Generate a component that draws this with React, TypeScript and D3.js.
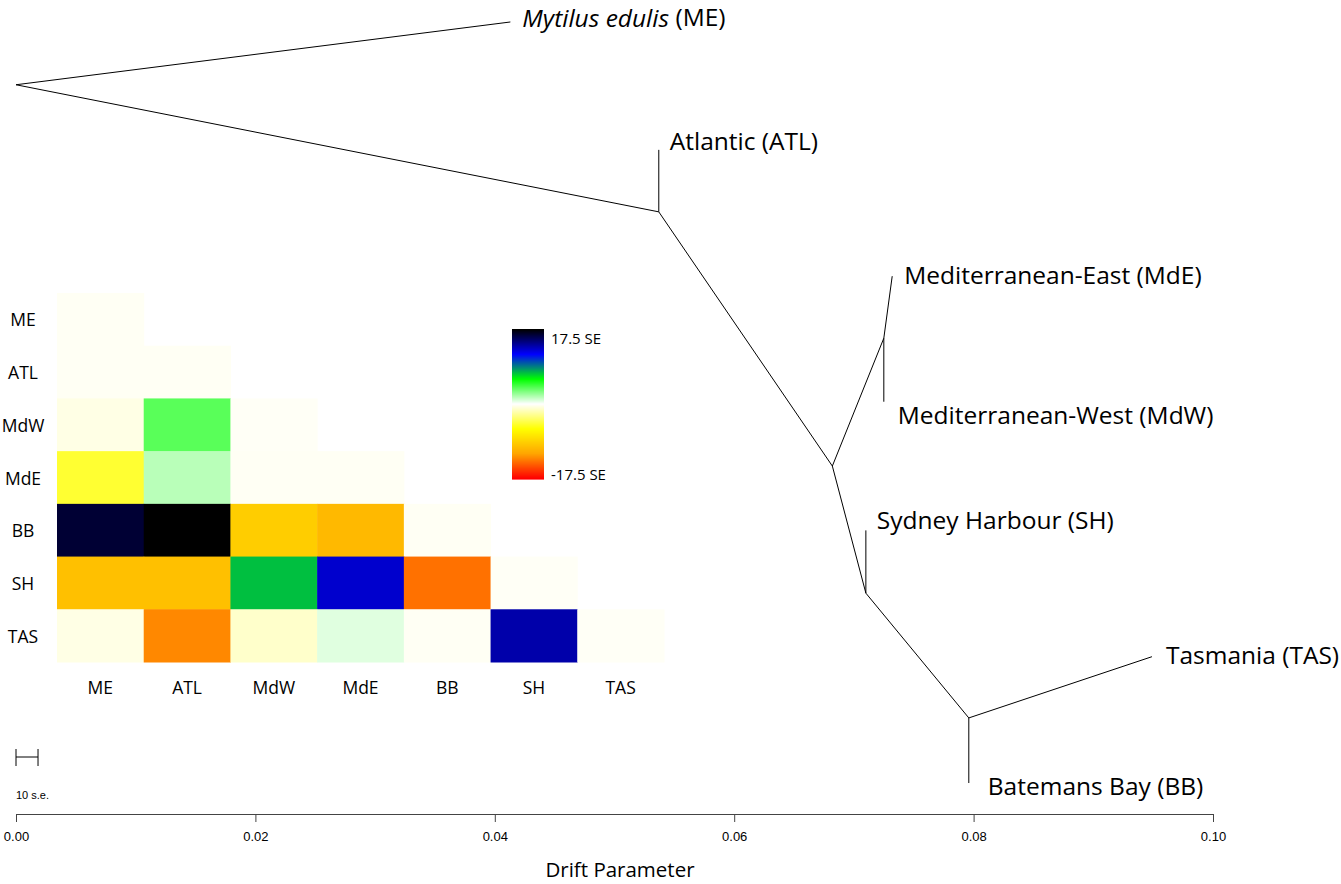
import React from "react";
import * as d3 from "d3";

// ---------- data ----------
const popCodes = ["ME", "ATL", "MdW", "MdE", "BB", "SH", "TAS"];

// lower-triangle residuals (row i has columns 0..i), in SE units
const residualRows: number[][] = [
  [-0.25],
  [-0.25, -0.25],
  [-0.6, 3.8, -0.2],
  [-4.7, 1.6, -0.25, -0.25],
  [16.3, 17.5, -9.1, -10.4, -0.25],
  [-9.9, -9.9, 7.3, 12.8, -13.5, -0.2],
  [-0.6, -12.7, -1.2, 0.7, -0.25, 13.6, -0.2],
];

const colorStops = ["#FF0000", "#FFA500", "#FFFF00", "#FFFFFF", "#00FF00", "#0000FF", "#000000"];
const colorLimit = 17.5;

// tree: drift (x) and vertical position (0..1)
const treeNodeIds = ["root", "ME", "nATL", "ATL", "n1", "nMed", "MdE", "MdW", "n2", "SH", "n3", "TAS", "BB"];
const treeParents = [null, "root", "root", "nATL", "nATL", "n1", "nMed", "nMed", "n1", "n2", "n2", "n3", "n3"];
const treeDrift = [0, 0.0413, 0.0537, 0.0537, 0.0682, 0.0725, 0.0732, 0.0725, 0.071, 0.071, 0.0796, 0.0949, 0.0796];
const treeY = [0.91, 0.991, 0.746, 0.826, 0.418, 0.583, 0.663, 0.501, 0.254, 0.335, 0.093, 0.172, 0.009];

const tipIds = ["ME", "ATL", "MdE", "MdW", "SH", "TAS", "BB"];
const tipNames = ["Mytilus edulis", "Atlantic", "Mediterranean-East", "Mediterranean-West", "Sydney Harbour", "Tasmania", "Batemans Bay"];
const tipItalic = [true, false, false, false, false, false, false];

const axisTicks = [0, 0.02, 0.04, 0.06, 0.08, 0.1];
const scaleBarDrift = 0.00184;
const scaleBarLabel = "10 s.e.";
const legendLabels = ["17.5 SE", "-17.5 SE"];
const xAxisTitle = "Drift Parameter";

// ---------- layout ----------
const W = 1341;
const H = 884;
const labelOffsets: Record<string, [number, number]> = {
  ME: [12, -5],
  ATL: [11, -9],
  MdE: [12, -2],
  MdW: [14, 13],
  SH: [11, -11],
  TAS: [14, -2],
  BB: [19, 2],
};
const labelFont = "'Open Sans', Lato, sans-serif";
const helv = "'Liberation Sans', Arial, sans-serif";

export default function App() {
  const x = d3.scaleLinear().domain([0, 0.1]).range([16, 1213]);
  const y = d3.scaleLinear().domain([0, 1]).range([790, 15]);

  const color = d3
    .scaleLinear<string>()
    .domain(d3.range(colorStops.length).map((i) => -colorLimit + (2 * colorLimit * i) / (colorStops.length - 1)))
    .range(colorStops)
    .interpolate(d3.interpolateRgb)
    .clamp(true);

  const idx = (id: string) => treeNodeIds.indexOf(id);

  const hx = d3.scaleBand<string>().domain(popCodes).range([57, 664]).paddingInner(0);
  const hy = d3.scaleBand<string>().domain(popCodes).range([293, 662]).paddingInner(0);

  const legTop = 329;
  const legBottom = 478;
  const legY = d3.scaleLinear().domain([colorLimit, -colorLimit]).range([legTop, legBottom]);
  const legendSteps = d3.range(0, 150).map((i) => colorLimit - (2 * colorLimit * i) / 149);

  const axisRef = React.useRef<SVGGElement>(null);
  React.useEffect(() => {
    if (!axisRef.current) return;
    const g = d3.select(axisRef.current);
    g.selectAll("*").remove();
    g.call(
      d3
        .axisBottom(x)
        .tickValues(axisTicks)
        .tickFormat(d3.format(".2f"))
        .tickSize(8)
        .tickSizeOuter(0)
    );
    g.select(".domain").attr("stroke", "#444").attr("stroke-width", 1.2);
    g.selectAll(".tick line").attr("stroke", "#444");
    g.selectAll(".tick text")
      .attr("font-family", helv)
      .attr("font-size", 13)
      .attr("fill", "#000")
      .attr("dy", "1.2em");
  }, []);

  return (
    <svg width={W} height={H} style={{ position: "absolute", left: 0, top: 0, background: "#fff" }}>
      <rect x={0} y={0} width={W} height={H} fill="#fff" />

      {/* heatmap */}
      <g>
        {residualRows.map((row, ri) =>
          row.map((v, ci) => (
            <rect
              key={`${ri}-${ci}`}
              x={hx(popCodes[ci])}
              y={hy(popCodes[ri])}
              width={hx.bandwidth() + 0.5}
              height={hy.bandwidth() + 0.5}
              fill={color(v)}
            />
          ))
        )}
        {popCodes.map((p) => (
          <text
            key={"r" + p}
            x={23}
            y={(hy(p) as number) + hy.bandwidth() / 2}
            textAnchor="middle"
            dominantBaseline="central"
            fontFamily={labelFont}
            fontSize={17.5}
            fill="#000"
          >
            {p}
          </text>
        ))}
        {popCodes.map((p) => (
          <text
            key={"c" + p}
            x={(hx(p) as number) + hx.bandwidth() / 2}
            y={687}
            textAnchor="middle"
            dominantBaseline="central"
            fontFamily={labelFont}
            fontSize={17.5}
            fill="#000"
          >
            {p}
          </text>
        ))}
      </g>

      {/* color legend */}
      <g>
        {legendSteps.map((v, i) => (
          <rect key={i} x={512} y={legY(v)} width={32} height={(legBottom - legTop) / 149 + 0.6} fill={color(v)} />
        ))}
        <text x={551} y={legY(colorLimit) + 9} dominantBaseline="central" fontFamily={labelFont} fontSize={15} fill="#000">
          {legendLabels[0]}
        </text>
        <text x={551} y={legY(-colorLimit) - 4} dominantBaseline="central" fontFamily={labelFont} fontSize={15} fill="#000">
          {legendLabels[1]}
        </text>
      </g>

      {/* tree edges */}
      <g stroke="#000" strokeWidth={1} fill="none">
        {treeNodeIds.map((id, i) => {
          const p = treeParents[i];
          if (!p) return null;
          const j = idx(p);
          return (
            <line key={id} x1={x(treeDrift[j])} y1={y(treeY[j])} x2={x(treeDrift[i])} y2={y(treeY[i])} />
          );
        })}
      </g>

      {/* tip labels */}
      <g>
        {tipIds.map((id, k) => {
          const i = idx(id);
          const off = labelOffsets[id];
          return (
            <text
              key={id}
              x={x(treeDrift[i]) + off[0]}
              y={y(treeY[i]) + off[1]}
              dominantBaseline="central"
              fontFamily={labelFont}
              fontSize={24.5}
              fill="#000"
            >
              {tipItalic[k] ? (
                <>
                  <tspan fontStyle="italic">{tipNames[k]}</tspan>
                  {` (${id})`}
                </>
              ) : (
                `${tipNames[k]} (${id})`
              )}
            </text>
          );
        })}
      </g>

      {/* scale bar */}
      <g stroke="#000" strokeWidth={1}>
        <line x1={x(0)} x2={x(scaleBarDrift)} y1={757} y2={757} />
        <line x1={x(0)} x2={x(0)} y1={749} y2={766} />
        <line x1={x(scaleBarDrift)} x2={x(scaleBarDrift)} y1={749} y2={766} />
      </g>
      <text x={x(0)} y={795} dominantBaseline="central" fontFamily={helv} fontSize={11} fill="#000">
        {scaleBarLabel}
      </text>

      {/* axis */}
      <g ref={axisRef} transform="translate(0,814)" />
      <text x={620} y={869} textAnchor="middle" dominantBaseline="central" fontFamily={labelFont} fontSize={20.5} fill="#000">
        {xAxisTitle}
      </text>
    </svg>
  );
}
